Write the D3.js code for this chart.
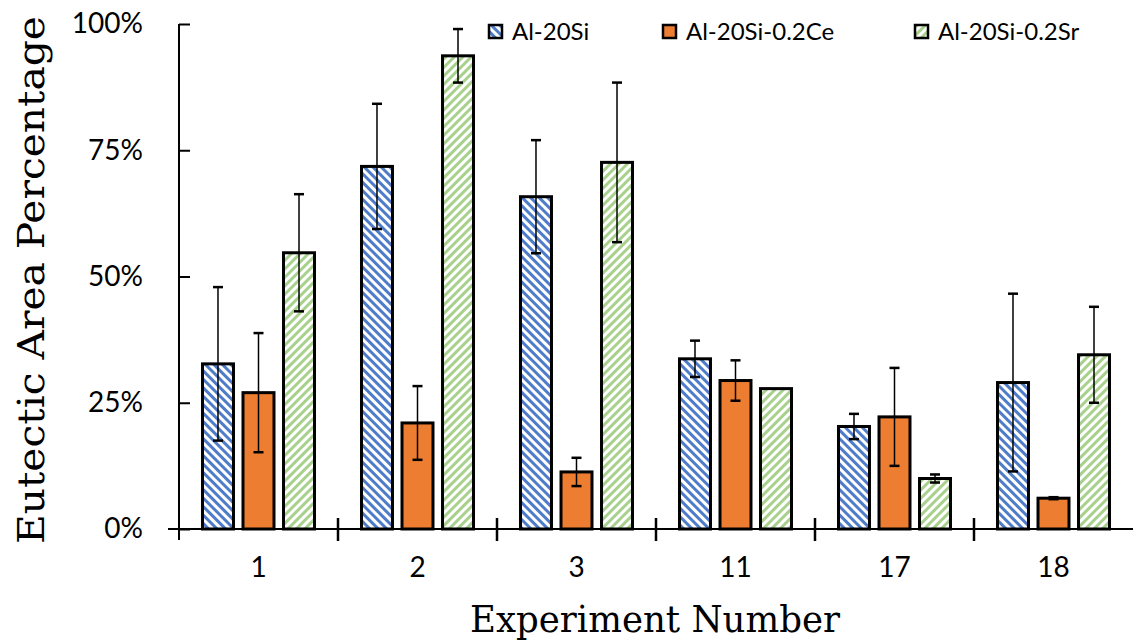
<!DOCTYPE html>
<html>
<head>
<meta charset="utf-8">
<script src="https://cdn.jsdelivr.net/npm/d3@7"></script>
<style>
  body { margin: 0; background: #fff; }
  svg { display: block; }
</style>
</head>
<body>
<svg id="chart" width="1133" height="641"></svg>
<script>
// data
const experiments = ["1", "2", "3", "11", "17", "18"];
const seriesNames = ["Al-20Si", "Al-20Si-0.2Ce", "Al-20Si-0.2Sr"];
const si = [0.327, 0.718, 0.658, 0.337, 0.203, 0.290];
const siErr = [0.152, 0.124, 0.112, 0.036, 0.025, 0.176];
const ce = [0.270, 0.210, 0.113, 0.294, 0.222, 0.061];
const ceErr = [0.118, 0.073, 0.028, 0.040, 0.097, 0.002];
const sr = [0.547, 0.937, 0.726, 0.278, 0.100, 0.345];
const srErr = [0.116, 0.053, 0.158, 0.000, 0.008, 0.095];
const yTicks = [0, 0.25, 0.5, 0.75, 1];

const svg = d3.select("#chart");

// patterns
const defs = svg.append("defs");
function stripes(id, color, angle) {
    let p = defs.append("pattern")
        .attr("id", id)
        .attr("patternUnits", "userSpaceOnUse")
        .attr("width", 6).attr("height", 6)
        .attr("patternTransform", "rotate(" + angle + ")");
    p.append("rect").attr("width", 6).attr("height", 6).attr("fill", "#fff");
    p.append("rect").attr("x", 0).attr("width", 3).attr("height", 6).attr("fill", color);
}
stripes("blueHatch", "#4f7cc9", -45);
stripes("greenHatch", "#a9d18e", 45);
const fills = ["url(#blueHatch)", "#ed7d31", "url(#greenHatch)"];

let plotLeft = 179, plotRight = 1133, plotTop = 24, plotBottom = 529;

//scales
let x = d3.scaleBand().domain(experiments).range([plotLeft, plotRight]).padding(0);
let xs = d3.scaleBand().domain(seriesNames).range([0, x.bandwidth()])
    .paddingInner(0.235).paddingOuter(0.58);
let y = d3.scaleLinear().domain([0, 1]).range([plotBottom, plotTop]);

// y axis
let yAxis = svg.append("g")
    .attr("transform", "translate(" + plotLeft + ",0)")
    .call(d3.axisLeft(y).tickValues(yTicks).tickFormat(d3.format(".0%")).tickSize(11).tickPadding(25));
yAxis.select(".domain").remove();
yAxis.selectAll(".tick line").attr("x2", 11).attr("stroke", "#000").attr("stroke-width", 2);
yAxis.selectAll(".tick text")
    .attr("font-family", "Lato, 'Open Sans', sans-serif")
    .attr("font-size", 28).attr("fill", "#000");
svg.append("line")
    .attr("x1", plotLeft).attr("x2", plotLeft)
    .attr("y1", plotTop).attr("y2", plotBottom + 11)
    .attr("stroke", "#000").attr("stroke-width", 2);

// x axis
svg.append("line")
    .attr("x1", plotLeft - 11).attr("x2", plotRight)
    .attr("y1", plotBottom).attr("y2", plotBottom)
    .attr("stroke", "#000").attr("stroke-width", 2);
let bounds = experiments.slice(1).map(d => x(d));
svg.selectAll(".xtick").data(bounds).join("line")
    .attr("class", "xtick")
    .attr("x1", d => d).attr("x2", d => d)
    .attr("y1", plotBottom - 11).attr("y2", plotBottom + 12)
    .attr("stroke", "#000").attr("stroke-width", 2.5);
svg.selectAll(".xlab").data(experiments).join("text")
    .attr("class", "xlab")
    .attr("x", d => x(d) + x.bandwidth() / 2)
    .attr("y", 577)
    .attr("text-anchor", "middle")
    .attr("font-family", "Lato, 'Open Sans', sans-serif")
    .attr("font-size", 28)
    .text(d => d);

// bars
const values = [si, ce, sr];
const errs = [siErr, ceErr, srErr];
seriesNames.forEach((name, s) => {
    let rows = experiments.map((e, i) => ({ e: e, v: values[s][i], err: errs[s][i] }));
    let g = svg.append("g");
    g.selectAll("rect").data(rows).join("rect")
        .attr("x", d => x(d.e) + xs(name))
        .attr("y", d => y(d.v))
        .attr("width", xs.bandwidth())
        .attr("height", d => y(0) - y(d.v))
        .attr("fill", fills[s])
        .attr("stroke", "#000")
        .attr("stroke-width", 3);
    // error bars
    let eb = g.selectAll(".err").data(rows.filter(d => d.err > 0)).join("g").attr("class", "err");
    let cx = d => x(d.e) + xs(name) + xs.bandwidth() / 2;
    eb.append("line")
        .attr("x1", cx).attr("x2", cx)
        .attr("y1", d => y(d.v + d.err)).attr("y2", d => y(d.v - d.err))
        .attr("stroke", "#000").attr("stroke-width", 1.5);
    [1, -1].forEach(sign => {
        eb.append("line")
            .attr("x1", d => cx(d) - 5).attr("x2", d => cx(d) + 5)
            .attr("y1", d => y(d.v + sign * d.err)).attr("y2", d => y(d.v + sign * d.err))
            .attr("stroke", "#000").attr("stroke-width", 2.5);
    });
});

// legend
const legendX = [489, 663, 915];
let lg = svg.selectAll(".leg").data(seriesNames).join("g")
    .attr("class", "leg")
    .attr("transform", (d, i) => "translate(" + legendX[i] + ",25)");
lg.append("rect")
    .attr("width", 13).attr("height", 13)
    .attr("fill", (d, i) => fills[i])
    .attr("stroke", "#000").attr("stroke-width", 2.5);
lg.append("text")
    .attr("x", 23).attr("y", 15)
    .attr("font-family", "Lato, 'Open Sans', sans-serif")
    .attr("font-size", 24)
    .text(d => d);

// axis titles
svg.append("text")
    .attr("x", 655).attr("y", 632)
    .attr("text-anchor", "middle")
    .attr("font-family", "'DejaVu Serif', serif")
    .attr("font-size", 37)
    .attr("textLength", 370)
    .attr("lengthAdjust", "spacingAndGlyphs")
    .text("Experiment Number");
svg.append("text")
    .attr("transform", "translate(44,280) rotate(-90)")
    .attr("text-anchor", "middle")
    .attr("font-family", "'DejaVu Serif', serif")
    .attr("font-size", 37)
    .attr("textLength", 528)
    .attr("lengthAdjust", "spacingAndGlyphs")
    .text("Eutectic Area Percentage");
</script>
</body>
</html>
